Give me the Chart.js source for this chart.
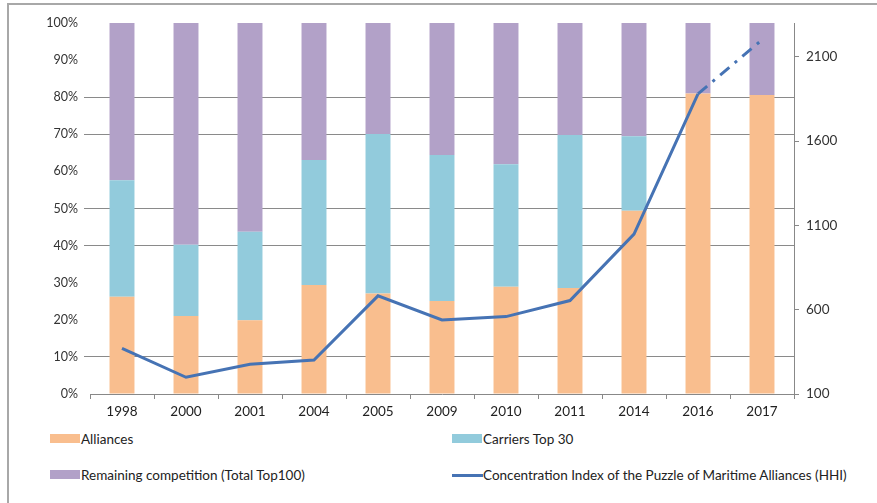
<!DOCTYPE html>
<html>
<head>
<meta charset="utf-8">
<script src="https://cdn.jsdelivr.net/npm/chart.js@4"></script>
<style>
  body { margin: 0; background: #fff; }
  #wrap { position: relative; width: 877px; height: 503px; overflow: hidden; font-family: Lato, "Liberation Sans", sans-serif; }
  #frame { position: absolute; left: 7px; top: 3px; right: 0; bottom: 0; border-left: 2px solid #a8a8a8; border-top: 2px solid #a8a8a8; }
  #chart { position: absolute; left: 0; top: 0; }
  .leg { position: absolute; font-size: 13.5px; color: #222; line-height: 16px; white-space: nowrap; }
  .leg .sw { position: absolute; left: 0; }
  .leg span.t { position: absolute; }
</style>
</head>
<body>
<div id="wrap">
  <div id="frame"></div>
  <canvas id="chart" width="877" height="430"></canvas>
  <div id="legend"></div>
</div>
<script>
// categories and values
const years = ['1998', '2000', '2001', '2004', '2005', '2009', '2010', '2011', '2014', '2016', '2017'];
const alliances = [26.2, 21.0, 19.9, 29.4, 27.1, 25.1, 28.9, 28.6, 49.4, 81.0, 80.6];
const carriersTop30 = [31.4, 19.2, 23.8, 33.7, 43.0, 39.3, 33.0, 41.2, 20.1, 0, 0];
const remaining = [42.4, 59.8, 56.3, 36.9, 29.9, 35.6, 38.1, 30.2, 30.5, 19.0, 19.4];
const hhi = [371, 199, 276, 302, 682, 539, 559, 654, 1048, 1880, 2200];
const hhiTicks = [100, 600, 1100, 1600, 2100];
const gridPercents = [10, 40, 50, 70, 80];

const colors = {
  alliances: '#f9be8e',
  carriers: '#92cbdc',
  remaining: '#b2a1c8',
  hhi: '#4673b4'
};

const fontFamily = 'Lato, "Liberation Sans", sans-serif';

const chart = new Chart(document.getElementById('chart').getContext('2d'), {
  type: 'bar',
  data: {
    labels: years,
    datasets: [
      { label: 'Alliances', data: alliances, backgroundColor: colors.alliances, stack: 's', order: 1 },
      { label: 'Carriers Top 30', data: carriersTop30, backgroundColor: colors.carriers, stack: 's', order: 1 },
      { label: 'Remaining competition (Total Top100)', data: remaining, backgroundColor: colors.remaining, stack: 's', order: 1 },
      {
        type: 'line',
        label: 'Concentration Index of the Puzzle of Maritime Alliances (HHI)',
        data: hhi,
        yAxisID: 'y1',
        borderColor: colors.hhi,
        backgroundColor: colors.hhi,
        borderWidth: 3,
        pointRadius: 0,
        tension: 0,
        order: 0,
        segment: {
          borderDash: ctx => ctx.p1DataIndex === years.length - 1 ? [12, 7, 3, 7] : undefined
        }
      }
    ]
  },
  options: {
    responsive: false,
    animation: false,
    layout: { padding: { top: 23, left: 0, right: 0, bottom: 0 } },
    datasets: { bar: { barPercentage: 0.39, categoryPercentage: 1 } },
    plugins: { legend: { display: false }, tooltip: { enabled: false } },
    scales: {
      x: {
        stacked: true,
        grid: { offset: true, drawOnChartArea: false, tickLength: 5, color: '#888' },
        border: { color: '#888', width: 1 },
        ticks: { font: { family: fontFamily, size: 13.5 }, color: '#222', padding: 5 },
        afterFit: s => { s.height = 36; }
      },
      y: {
        stacked: true,
        min: 0,
        max: 100,
        ticks: { stepSize: 10, callback: v => v + '%', font: { family: fontFamily, size: 12.5 }, color: '#333', padding: 6 },
        grid: {
          tickLength: 6,
          color: ctx => gridPercents.includes(ctx.tick && ctx.tick.value) ? '#8a8a8a' : 'rgba(0,0,0,0)'
        },
        border: { display: false },
        afterFit: s => { s.width = 90; }
      },
      y1: {
        position: 'right',
        min: 100,
        max: 2300,
        afterBuildTicks: s => { s.ticks = hhiTicks.map(v => ({ value: v })); },
        ticks: { callback: v => String(v), font: { family: fontFamily, size: 13.5 }, color: '#333', padding: 7 },
        grid: { drawOnChartArea: false, tickLength: 5, color: '#888' },
        border: { color: '#888', width: 1 },
        afterFit: s => { s.width = 83; }
      }
    }
  }
});

// two-column legend under the chart, built from the datasets
const legendPos = [
  { left: 50, top: 431 },
  { left: 452, top: 431 },
  { left: 50, top: 467 },
  { left: 452, top: 467 }
];
const legendEl = document.getElementById('legend');
chart.data.datasets.forEach((ds, i) => {
  const item = document.createElement('div');
  item.className = 'leg';
  item.style.left = legendPos[i].left + 'px';
  item.style.top = legendPos[i].top + 'px';
  const sw = document.createElement('div');
  sw.className = 'sw';
  if (ds.type === 'line') {
    sw.style.cssText = 'left:0;top:7px;width:31px;height:3px;background:' + ds.borderColor;
  } else {
    sw.style.cssText = 'left:0;top:3px;width:30px;height:9px;background:' + ds.backgroundColor;
  }
  const t = document.createElement('span');
  t.className = 't';
  t.style.left = '31px';
  t.textContent = ds.label;
  item.appendChild(sw);
  item.appendChild(t);
  legendEl.appendChild(item);
});
</script>
</body>
</html>
